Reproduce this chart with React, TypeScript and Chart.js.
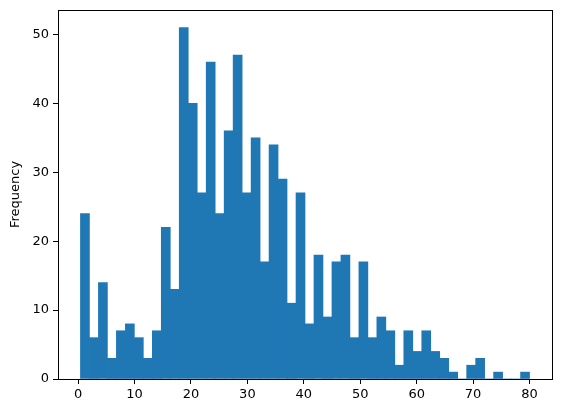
import React, { useEffect, useRef } from "react";
import { Chart, registerables } from "chart.js";

Chart.register(...registerables);

// Histogram: 50 bins spanning the data range [0.42, 80]
const dataMin = 0.42;
const dataMax = 80;
const binCount = 50;
const counts = [
  24, 6, 14, 3, 7, 8, 6, 3, 7, 22,
  13, 51, 40, 27, 46, 24, 36, 47, 27, 35,
  17, 34, 29, 11, 27, 8, 18, 9, 17, 18,
  6, 17, 6, 9, 7, 2, 7, 4, 7, 4,
  3, 1, 0, 2, 3, 0, 1, 0, 0, 1,
];
const xTicks = [0, 10, 20, 30, 40, 50, 60, 70, 80];
const yTicks = [0, 10, 20, 30, 40, 50];
const yLabel = "Frequency";

const frame = {
  id: "frame",
  afterDraw(chart: any) {
    const { ctx, chartArea } = chart;
    ctx.save();
    ctx.strokeStyle = "#000";
    ctx.lineWidth = 1;
    ctx.strokeRect(
      Math.round(chartArea.left) + 0.5,
      Math.round(chartArea.top) + 0.5,
      Math.round(chartArea.right - chartArea.left),
      Math.round(chartArea.bottom - chartArea.top)
    );
    ctx.restore();
  },
};

export default function App() {
  const ref = useRef<HTMLCanvasElement>(null);
  useEffect(() => {
    if (!ref.current) return;
    const w = (dataMax - dataMin) / binCount;
    const points = counts.map((c, i) => ({ x: dataMin + w * (i + 0.5), y: c }));
    const span = dataMax - dataMin;
    const maxCount = Math.max(...counts);
    Chart.defaults.color = "#000";
    Chart.defaults.font.family = "'DejaVu Sans', sans-serif";
    Chart.defaults.font.size = 13;
    const chart = new Chart(ref.current, {
      type: "bar",
      data: {
        datasets: [
          {
            data: points,
            backgroundColor: "#1f77b4",
            borderWidth: 0,
            barPercentage: 1,
            categoryPercentage: 1,
          },
        ],
      },
      options: {
        animation: false,
        responsive: false,
        maintainAspectRatio: false,
        layout: { padding: { top: 10, right: 10, left: 0, bottom: 0 } },
        plugins: { legend: { display: false }, tooltip: { enabled: false } },
        scales: {
          x: {
            type: "linear",
            offset: false,
            min: dataMin - span * 0.05,
            max: dataMax + span * 0.05,
            afterBuildTicks: (s: any) => {
              s.ticks = xTicks.map((v) => ({ value: v }));
            },
            afterFit: (s: any) => {
              s.height = 34;
              s.paddingLeft = 0;
              s.paddingRight = 0;
            },
            ticks: { padding: 3, maxRotation: 0, autoSkip: false },
            grid: { offset: false, drawOnChartArea: false, drawTicks: true, tickLength: 5, color: "#000" },
            border: { display: false },
          },
          y: {
            type: "linear",
            min: 0,
            max: maxCount * 1.05,
            afterBuildTicks: (s: any) => {
              s.ticks = yTicks.map((v) => ({ value: v }));
            },
            afterFit: (s: any) => {
              s.width = 58;
              s.paddingTop = 0;
              s.paddingBottom = 0;
            },
            ticks: { padding: 4, autoSkip: false },
            grid: { drawOnChartArea: false, drawTicks: true, tickLength: 5, color: "#000" },
            border: { display: false },
            title: { display: true, text: yLabel, padding: { top: 8, bottom: 0 }, font: { size: 13 } },
          },
        },
      },
      plugins: [frame],
    });
    return () => chart.destroy();
  }, []);
  return (
    <div style={{ position: "fixed", left: 0, top: 0, width: 562, height: 413, background: "#fff" }}>
      <canvas ref={ref} width={562} height={413} />
    </div>
  );
}
